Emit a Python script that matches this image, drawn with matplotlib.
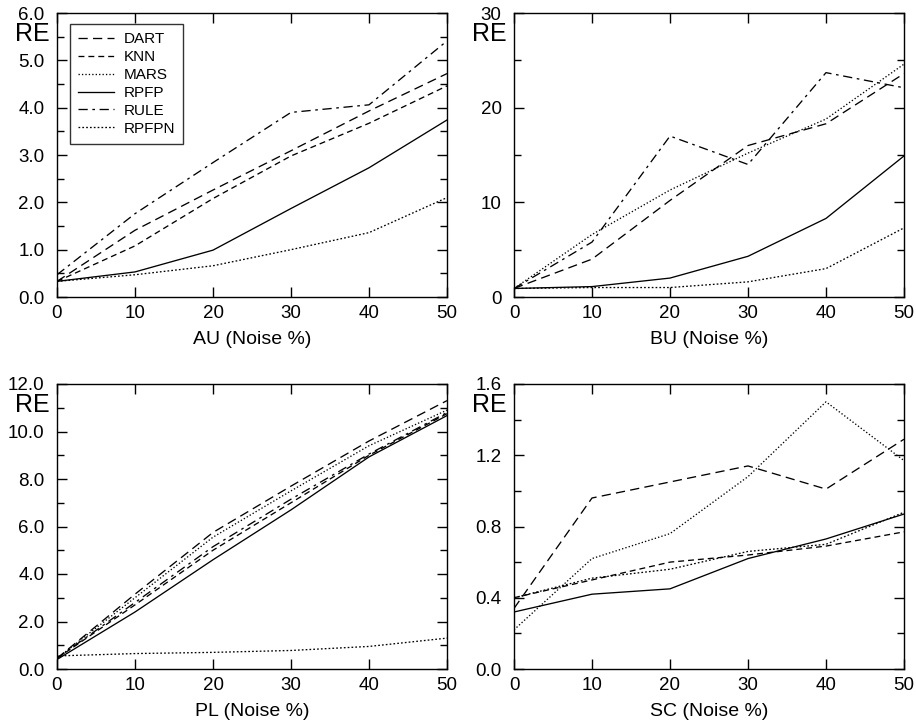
import numpy as np
import matplotlib
matplotlib.use("Agg")
import matplotlib.pyplot as plt
from matplotlib.ticker import MultipleLocator, FormatStrFormatter

plt.rcParams['font.family'] = ['Liberation Sans', 'DejaVu Sans']

noise = [0, 10, 20, 30, 40, 50]
methods = ["DART", "KNN", "MARS", "RPFP", "RULE", "RPFPN"]
nan = float('nan')

# AU dataset
au_dart = [0.33, 1.41, 2.26, 3.09, 3.93, 4.72]
au_knn = [0.33, 1.08, 2.08, 2.98, 3.67, 4.46]
au_mars = [nan, nan, nan, nan, nan, nan]
au_rpfp = [0.33, 0.53, 0.99, 1.87, 2.73, 3.74]
au_rule = [0.47, 1.76, 2.84, 3.90, 4.06, 5.41]
au_rpfpn = [0.33, 0.47, 0.66, 1.00, 1.36, 2.10]

# BU dataset
bu_dart = [0.9, 4.0, 10.2, 16.0, 18.3, 23.6]
bu_knn = [nan, nan, nan, nan, nan, nan]
bu_mars = [0.9, 6.6, 11.3, 15.2, 18.8, 24.6]
bu_rpfp = [0.9, 1.1, 2.0, 4.3, 8.3, 14.9]
bu_rule = [0.9, 5.8, 17.0, 14.0, 23.7, 22.1]
bu_rpfpn = [0.9, 1.0, 1.0, 1.6, 3.0, 7.3]

# PL dataset
pl_dart = [0.45, 3.15, 5.75, 7.7, 9.6, 11.3]
pl_knn = [0.45, 2.7, 5.0, 7.0, 9.0, 10.75]
pl_mars = [0.45, 3.0, 5.55, 7.5, 9.4, 10.9]
pl_rpfp = [0.40, 2.4, 4.6, 6.7, 8.93, 10.67]
pl_rule = [0.45, 2.8, 5.15, 7.15, 9.05, 10.8]
pl_rpfpn = [0.55, 0.65, 0.70, 0.78, 0.95, 1.30]

# SC dataset
sc_dart = [0.34, 0.96, 1.05, 1.14, 1.01, 1.29]
sc_knn = [0.40, 0.50, 0.60, 0.64, 0.69, 0.77]
sc_mars = [0.22, 0.62, 0.76, 1.08, 1.50, 1.17]
sc_rpfp = [0.32, 0.42, 0.45, 0.62, 0.73, 0.87]
sc_rule = [nan, nan, nan, nan, nan, nan]
sc_rpfpn = [0.40, 0.51, 0.56, 0.66, 0.70, 0.88]

datasets = [
    ("AU (Noise %)", [au_dart, au_knn, au_mars, au_rpfp, au_rule, au_rpfpn], 6.0, 1.0, 0.5, "%.1f"),
    ("BU (Noise %)", [bu_dart, bu_knn, bu_mars, bu_rpfp, bu_rule, bu_rpfpn], 30, 10, 5, "%d"),
    ("PL (Noise %)", [pl_dart, pl_knn, pl_mars, pl_rpfp, pl_rule, pl_rpfpn], 12.0, 2.0, 1.0, "%.1f"),
    ("SC (Noise %)", [sc_dart, sc_knn, sc_mars, sc_rpfp, sc_rule, sc_rpfpn], 1.6, 0.4, 0.2, "%.1f"),
]

styles = {
    "DART": (0, (7, 4)),
    "KNN": (0, (4.5, 3)),
    "MARS": (0, (1, 1.6)),
    "RPFP": "-",
    "RULE": (0, (7, 3.5, 2, 3.5)),
    "RPFPN": (0, (1.3, 1.6)),
}

fig = plt.figure(figsize=(9.16, 7.27), dpi=100)
W, H = 916, 727
positions = [
    (57, 13, 390, 284),
    (514, 13, 390, 284),
    (57, 384, 390, 285),
    (514, 384, 390, 285),
]

for (xlabel, series, ymax, major, minor, fmt), (l, t, w, h) in zip(datasets, positions):
    ax = fig.add_axes([l / W, 1 - (t + h) / H, w / W, h / H])
    for name, vals in zip(methods, series):
        ax.plot(noise, vals, color="black", linewidth=0.95, linestyle=styles[name], label=name)
    ax.set_xlim(0, 50)
    ax.set_ylim(0, ymax)
    ax.xaxis.set_major_locator(MultipleLocator(10))
    ax.yaxis.set_major_locator(MultipleLocator(major))
    ax.yaxis.set_minor_locator(MultipleLocator(minor))
    ax.yaxis.set_major_formatter(FormatStrFormatter(fmt))
    ax.tick_params(axis='both', which='both', direction='in', top=True, right=True,
                   labelsize=13.5, width=1.0)
    ax.tick_params(axis='both', which='major', length=7)
    ax.tick_params(axis='x', which='major', pad=6)
    ax.tick_params(axis='y', which='major', pad=9)
    ax.tick_params(axis='y', which='minor', length=5)
    for s in ax.spines.values():
        s.set_linewidth(1.0)
    ax.set_xlabel(xlabel, fontsize=14, labelpad=6)
    ax.text(-0.108, 0.925, "RE", transform=ax.transAxes, fontsize=18,
            ha='left', va='center')
    if xlabel.startswith("AU"):
        leg = ax.legend(loc='upper left', bbox_to_anchor=(0.033, 0.961), fontsize=11,
                        frameon=True, fancybox=False, edgecolor='black',
                        handlelength=2.35, handletextpad=0.6, borderpad=0.55,
                        labelspacing=0.25, borderaxespad=0)
        leg.get_frame().set_linewidth(1.0)

fig.savefig("out.png", dpi=100)
